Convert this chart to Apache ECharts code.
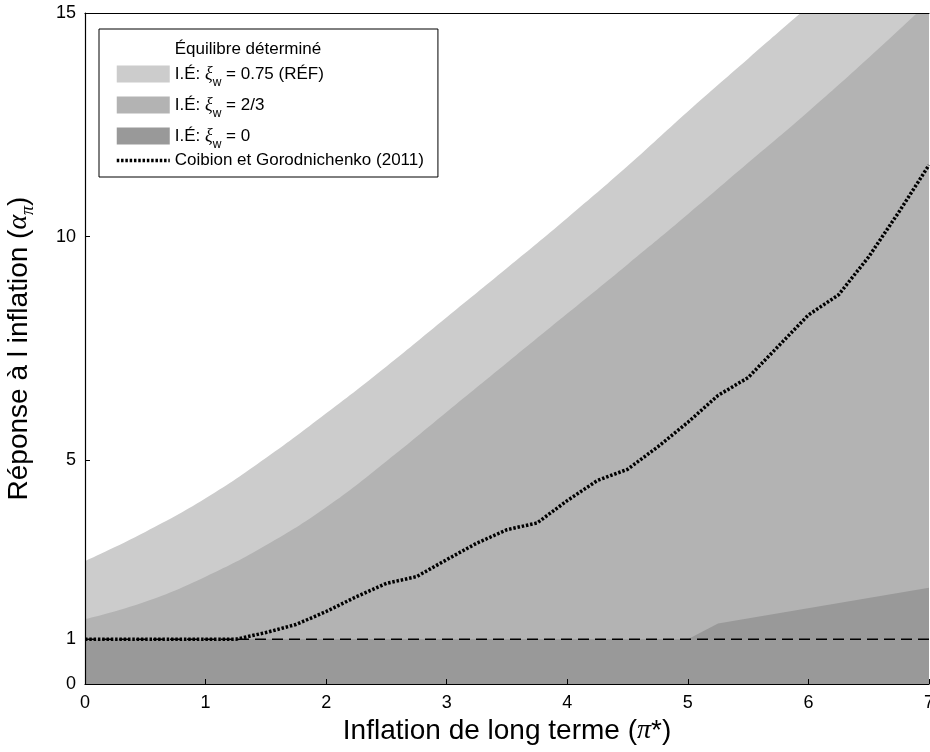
<!DOCTYPE html>
<html><head><meta charset="utf-8">
<script src="https://cdn.jsdelivr.net/npm/echarts@6/dist/echarts.min.js"></script>
<style>html,body{margin:0;padding:0;background:#fff}#c{width:930px;height:752px}</style>
</head><body><div id="c"></div>
<script>
// ---- data ----
const xBand = [0, 0.5, 1, 1.5, 2, 2.5, 3, 3.5, 4, 4.5, 5, 5.5, 6, 6.5, 7];
const refBand = [2.75, 3.4, 4.15, 5.05, 6.05, 7.1, 8.2, 9.3, 10.42, 11.58, 12.8, 13.98, 15.15, 16.3, 17.5];
const twoThirdsBand = [1.45, 1.84, 2.4, 3.1, 3.95, 4.98, 6.08, 7.18, 8.28, 9.38, 10.5, 11.65, 12.8, 14.0, 15.25];
const xZero = [0, 5, 5.25, 7];
const zeroBand = [1, 1, 1.35, 2.15];
const xCG = [0, 0.25, 0.5, 0.75, 1, 1.25, 1.5, 1.75, 2, 2.25, 2.5, 2.75, 3, 3.25, 3.5, 3.75, 4, 4.25, 4.5, 4.75, 5, 5.25, 5.5, 5.75, 6, 6.25, 6.5, 6.75, 7];
const cgLine = [1, 1, 1, 1, 1, 1, 1.15, 1.33, 1.62, 1.95, 2.25, 2.4, 2.78, 3.15, 3.45, 3.6, 4.1, 4.55, 4.8, 5.3, 5.85, 6.45, 6.85, 7.55, 8.25, 8.7, 9.55, 10.55, 11.6];
const xOne = [0, 7];
const oneLine = [1, 1];
const xTicks = [0, 1, 2, 3, 4, 5, 6, 7];
const yTicks = [0, 1, 5, 10, 15];
const legendNames = ['Équilibre déterminé', 'I.É: ξw = 0.75 (RÉF)', 'I.É: ξw = 2/3', 'I.É: ξw = 0', 'Coibion et Gorodnichenko (2011)'];
const legendRich = {
  'I.É: ξw = 0.75 (RÉF)': '{n|I.É: }{x|ξ}{s|w}{n| = 0.75 (RÉF)}',
  'I.É: ξw = 2/3': '{n|I.É: }{x|ξ}{s|w}{n| = 2/3}',
  'I.É: ξw = 0': '{n|I.É: }{x|ξ}{s|w}{n| = 0}'
};
// ---------------------------------------
const zip = (xs, ys) => xs.map((x, i) => [x, ys[i]]);
const FF = 'Liberation Sans, Arial, sans-serif';
const chart = echarts.init(document.getElementById('c'), null, {renderer: 'canvas'});
function area(name, xs, ys, color, smooth) {
  return {type: 'line', name, data: zip(xs, ys), symbol: 'none', smooth: smooth ? 0.45 : false,
    lineStyle: {width: 0}, itemStyle: {color}, areaStyle: {color, opacity: 1}, z: 2, silent: true};
}
chart.setOption({
  animation: false,
  grid: {left: 85, right: 1, top: 13, bottom: 68, containLabel: false, outerBoundsMode: 'none'},
  legend: {
    orient: 'vertical', left: 99, top: 29, itemWidth: 53, itemHeight: 17, itemGap: 1,
    padding: [12, 14, 8, 16], backgroundColor: '#fff', borderColor: '#000', borderWidth: 1,
    selectedMode: false,
    data: [
      {name: legendNames[0], icon: 'none'},
      {name: legendNames[1], icon: 'rect'},
      {name: legendNames[2], icon: 'rect'},
      {name: legendNames[3], icon: 'rect'},
      {name: legendNames[4], itemStyle: {color: 'rgba(0,0,0,0)', borderColor: 'rgba(0,0,0,0)', borderWidth: 0, opacity: 0},
        lineStyle: {color: '#000', width: 3.5, type: [2.5, 1.8], cap: 'butt'}}
    ],
    formatter: name => legendRich[name] || name,
    textStyle: {fontFamily: FF, fontSize: 17, color: '#000', lineHeight: 17,
      rich: {
        n: {fontFamily: FF, fontSize: 17, color: '#000', lineHeight: 30},
        x: {fontFamily: 'Liberation Serif', fontStyle: 'italic', fontSize: 18, color: '#000', lineHeight: 30},
        s: {fontFamily: FF, fontSize: 12, color: '#000', lineHeight: 5, verticalAlign: 'bottom'}
      }}
  },
  xAxis: [{
    type: 'value', min: 0, max: 7, interval: 1, z: 10,
    axisLine: {lineStyle: {color: '#000', width: 1.2}},
    axisTick: {inside: true, length: 5, lineStyle: {color: '#000'}},
    axisLabel: {fontFamily: FF, fontSize: 18, color: '#000', margin: 10, customValues: xTicks},
    splitLine: {show: false},
    name: 'Inflation de long terme ({i|π}*)', nameLocation: 'middle', nameGap: 31,
    nameTextStyle: {fontFamily: FF, fontSize: 28, color: '#000',
      rich: {i: {fontFamily: 'Liberation Serif', fontStyle: 'italic', fontSize: 28, color: '#000'}}}
  }, {
    type: 'value', position: 'top', min: 0, max: 7, z: 10,
    axisLine: {lineStyle: {color: '#000', width: 1.2}},
    axisTick: {show: false}, axisLabel: {show: false}, splitLine: {show: false}
  }],
  yAxis: {
    type: 'value', min: 0, max: 15, z: 10,
    axisLine: {lineStyle: {color: '#000', width: 1.2}},
    axisTick: {inside: true, length: 5, lineStyle: {color: '#000'}, customValues: yTicks},
    axisLabel: {fontFamily: FF, fontSize: 18, color: '#000', margin: 9, customValues: yTicks},
    splitLine: {show: false},
    name: 'Réponse à l inflation ({a|α}{p|π})', nameLocation: 'middle', nameGap: 48,
    nameTextStyle: {fontFamily: FF, fontSize: 28, color: '#000',
      rich: {
        a: {fontFamily: 'Liberation Serif', fontStyle: 'italic', fontSize: 28, color: '#000', lineHeight: 36},
        p: {fontFamily: 'Liberation Serif', fontStyle: 'italic', fontSize: 18, color: '#000', lineHeight: 6, verticalAlign: 'bottom'}
      }}
  },
  series: [
    area(legendNames[1], xBand, refBand, '#cccccc', true),
    area(legendNames[2], xBand, twoThirdsBand, '#b3b3b3', true),
    area(legendNames[3], xZero, zeroBand, '#999999', false),
    {type: 'line', name: 'un', data: zip(xOne, oneLine), symbol: 'none', z: 3, silent: true,
      lineStyle: {color: '#000', width: 1.5, type: [11, 6]}},
    {type: 'line', name: legendNames[4], data: zip(xCG, cgLine), symbol: 'none', z: 4, silent: true,
      itemStyle: {color: '#000'},
      lineStyle: {color: '#000', width: 3.5, type: [2.5, 1.8], cap: 'butt'}},
    {type: 'line', name: legendNames[0], data: [], symbol: 'none', itemStyle: {color: '#fff'}}
  ]
});
</script></body></html>
